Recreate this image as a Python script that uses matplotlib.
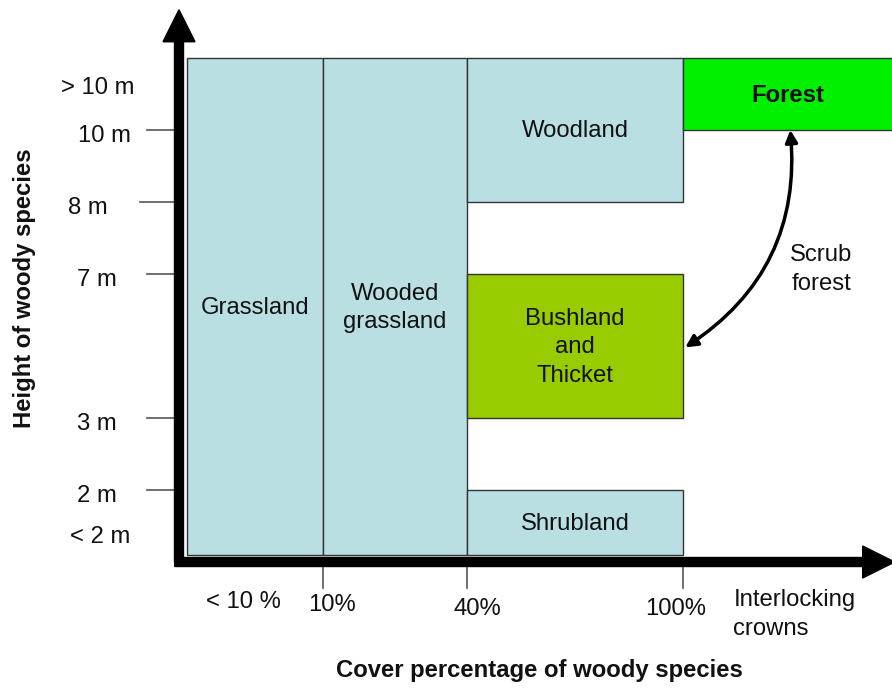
import matplotlib.pyplot as plt
from matplotlib.patches import Rectangle

plt.rcParams['font.family'] = ['Liberation Sans', 'DejaVu Sans']

# vegetation classes: name, cover from/to, height from/to (grid units), fill
class_names = ["Grassland", "Wooded\ngrassland", "Woodland",
               "Bushland\nand\nThicket", "Shrubland", "Forest"]
cover_from = [0.11, 2.0, 4.0, 4.0, 4.0, 7.0]
cover_to = [2.0, 4.0, 7.0, 7.0, 7.0, 10.2]
height_from = [0.1, 0.1, 5.0, 2.0, 0.1, 6.0]
height_to = [7.0, 7.0, 7.0, 4.0, 1.0, 7.0]
class_colors = ["#B9DFE3", "#B9DFE3", "#B9DFE3", "#99CC00", "#B9DFE3", "#00F000"]
class_bold = [False, False, False, False, False, True]

# axis ticks
height_ticks = [1, 2, 4, 5, 6]
height_labels = ["2 m", "3 m", "7 m", "8 m", "10 m"]
cover_ticks = [2, 4, 7]
cover_labels = ["10%", "40%", "100%"]

fig = plt.figure(figsize=(8.92, 6.89), dpi=100)
ax = fig.add_axes([0, 0, 1, 1])
ax.set_xlim(-179 / 72, 713 / 72)
ax.set_ylim(-127 / 72, 562 / 72)
ax.axis('off')

# class boxes
for name, x0, x1, y0, y1, col, bold in zip(class_names, cover_from, cover_to,
                                          height_from, height_to, class_colors, class_bold):
    ax.add_patch(Rectangle((x0, y0), x1 - x0, y1 - y0, facecolor=col,
                           edgecolor='#333333', lw=1, zorder=1))
    cx = (x0 + min(x1, 9.9)) / 2
    ax.text(cx, (y0 + y1) / 2 - 0.02, name, ha='center', va='center', fontsize=17.2,
            fontweight='bold' if bold else 'normal', color='#111111',
            linespacing=1.38, zorder=3)

# tick lines
tick_start = [-0.44, -0.44, -0.44, -0.54, -0.44]
for t, s in zip(height_ticks, tick_start):
    ax.plot([s, 0], [t, t], color='#555555', lw=1.2, zorder=2)
for t in cover_ticks:
    ax.plot([t, t], [0, -0.36], color='#555555', lw=1.2, zorder=2)

# tick labels
height_label_x = [-1.14, -1.14, -1.14, -1.26, -1.04]
for t, lab, lx in zip(height_ticks, height_labels, height_label_x):
    ax.text(lx, t - 0.09, lab, ha='center', va='center', fontsize=17.2, color='#111111')
ax.text(-1.1, 0.35, "< 2 m", ha='center', va='center', fontsize=17.2, color='#111111')
ax.text(-1.13, 6.58, "> 10 m", ha='center', va='center', fontsize=17.2, color='#111111')

cover_label_x = [2.12, 4.14, 6.9]
cover_label_y = [-0.6, -0.65, -0.65]
for lab, lx, ly in zip(cover_labels, cover_label_x, cover_label_y):
    ax.text(lx, ly, lab, ha='center', va='center', fontsize=17.2, color='#111111')
ax.text(0.89, -0.55, "< 10 %", ha='center', va='center', fontsize=17.2, color='#111111')
ax.text(7.7, -0.73, "Interlocking\ncrowns", ha='left', va='center', fontsize=17.2,
        color='#111111', linespacing=1.38)

# axis titles
ax.text(5.0, -1.5, "Cover percentage of woody species", ha='center', va='center',
        fontsize=17.2, fontweight='bold', color='#111111')
ax.text(-2.14, 3.8, "Height of woody species", ha='center', va='center',
        fontsize=17.2, fontweight='bold', rotation=90, color='#111111')

# thick axis arrows
ax.arrow(0, 0, 0, 7.67, width=9 / 72, head_width=32 / 72, head_length=32 / 72,
         length_includes_head=True, color='black', zorder=4)
ax.arrow(-0.06, 0, 10.0, 0, width=9 / 72, head_width=32 / 72, head_length=32 / 72,
         length_includes_head=True, color='black', zorder=4)

# scrub forest curved arrow
ax.annotate("", xy=(7.03, 2.98), xytext=(8.49, 6.0),
            arrowprops=dict(arrowstyle='<|-|>', color='black', lw=2.5,
                            mutation_scale=18, shrinkA=0, shrinkB=0,
                            connectionstyle='arc3,rad=-0.3'), zorder=5)
ax.text(8.92, 4.06, "Scrub\nforest", ha='center', va='center', fontsize=17.2,
        color='#111111', linespacing=1.38)

fig.savefig('out.png', dpi=100)
